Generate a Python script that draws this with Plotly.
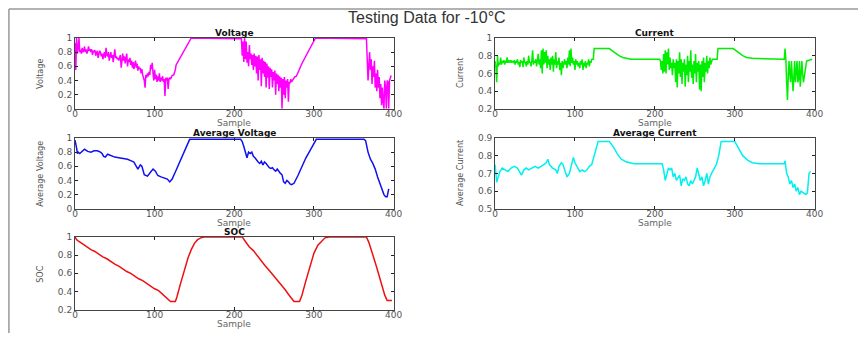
import plotly.graph_objects as go

# ---------------- data ----------------
voltage_x = list(range(0, 123)) + [124, 126, 127, 130, 146, 209] + list(range(210, 277)) + [278, 282, 285, 302, 366] + list(range(367, 396)) + [397]
voltage_y = [0.93, 0.55, 1.0, 0.78, 0.85, 1.0, 0.8, 0.83, 0.78, 0.86, 0.8, 0.82, 0.88, 0.8, 0.84, 0.78, 0.82, 0.88, 0.82, 0.84,
             0.8, 0.84, 0.76, 0.82, 0.8, 0.83, 0.75, 0.8, 0.82, 0.72, 0.78, 0.82, 0.8, 0.74, 0.78, 0.7, 0.76, 0.8, 0.72, 0.86,
             0.76, 0.74, 0.8, 0.68, 0.74, 0.8, 0.72, 0.76, 0.66, 0.73, 0.84, 0.72, 0.74, 0.7, 0.72, 0.68, 0.73, 0.76, 0.58, 0.72,
             0.78, 0.68, 0.74, 0.64, 0.7, 0.78, 0.6, 0.7, 0.66, 0.72, 0.62, 0.68, 0.58, 0.66, 0.56, 0.62, 0.68, 0.58, 0.64, 0.54,
             0.6, 0.56, 0.58, 0.5, 0.56, 0.48, 0.44, 0.4, 0.3, 0.48, 0.44, 0.5, 0.46, 0.52, 0.48, 0.62, 0.56, 0.65, 0.5, 0.4,
             0.55, 0.42, 0.48, 0.38, 0.46, 0.4, 0.5, 0.38, 0.44, 0.4, 0.46, 0.38, 0.42, 0.18, 0.44, 0.4, 0.44, 0.28, 0.42, 0.44,
             0.42, 0.46, 0.47,
             0.48, 0.55, 0.62, 0.68, 1.0, 0.99,
             0.75, 0.95, 0.66, 1.0, 0.7, 0.95, 0.65, 0.8, 0.6, 0.9, 0.7, 0.78, 0.62, 0.76, 0.55, 0.78, 0.6, 0.75, 0.5, 0.74,
             0.4, 0.76, 0.55, 0.7, 0.32, 0.72, 0.5, 0.68, 0.45, 0.66, 0.3, 0.64, 0.44, 0.6, 0.28, 0.58, 0.45, 0.56, 0.3, 0.52,
             0.4, 0.54, 0.2, 0.5, 0.35, 0.48, 0.25, 0.46, 0.3, 0.44, 0.0, 0.42, 0.2, 0.45, 0.15, 0.4, 0.3, 0.42, 0.1, 0.38,
             0.36, 0.42, 0.38, 0.4, 0.42, 0.44, 0.45,
             0.46, 0.58, 0.64, 1.0, 0.99,
             0.7, 0.4, 0.6, 0.8, 0.55, 0.7, 0.35, 0.6, 0.45, 0.68, 0.3, 0.5, 0.25, 0.55, 0.3, 0.45, 0.15, 0.35, 0.05, 0.3,
             0.1, 0.0, 0.4, 0.3, 0.0, 0.4, 0.38, 0.0, 0.4,
             0.47]

current_x = list(range(0, 124)) + [124, 143, 146, 150, 155, 160, 165, 170, 206] + list(range(207, 275)) + [278, 279, 298, 301, 305, 310, 315, 322, 361, 362, 363] + list(range(364, 387)) + [390, 397]
current_y = [0.74, 0.66, 0.5, 0.8, 0.68, 0.72, 0.7, 0.78, 0.7, 0.74, 0.72, 0.75, 0.7, 0.74, 0.72, 0.78, 0.72, 0.74, 0.73, 0.75,
             0.72, 0.74, 0.73, 0.72, 0.75, 0.7, 0.74, 0.72, 0.76, 0.7, 0.73, 0.67, 0.75, 0.72, 0.74, 0.67, 0.78, 0.72, 0.73, 0.68,
             0.74, 0.7, 0.8, 0.72, 0.73, 0.68, 0.74, 0.86, 0.7, 0.74, 0.72, 0.76, 0.68, 0.74, 0.82, 0.7, 0.76, 0.66, 0.86, 0.6,
             0.88, 0.7, 0.84, 0.72, 0.86, 0.66, 0.8, 0.7, 0.76, 0.64, 0.78, 0.7, 0.8, 0.62, 0.76, 0.7, 0.84, 0.66, 0.74, 0.7,
             0.78, 0.64, 0.72, 0.58, 0.74, 0.66, 0.72, 0.76, 0.7, 0.74, 0.66, 0.78, 0.7, 0.86, 0.68, 0.88, 0.72, 0.78, 0.7, 0.74,
             0.64, 0.76, 0.7, 0.74, 0.68, 0.72, 0.66, 0.74, 0.7, 0.76, 0.64, 0.72, 0.68, 0.74, 0.66, 0.72, 0.7, 0.76, 0.68, 0.74,
             0.72, 0.76, 0.76, 0.76,
             0.88, 0.88, 0.86, 0.83, 0.8, 0.78, 0.77, 0.76, 0.76,
             0.74, 0.64, 0.74, 0.6, 0.82, 0.62, 0.86, 0.6, 0.84, 0.7, 0.88, 0.64, 0.78, 0.66, 0.72, 0.58, 0.76, 0.66, 0.72, 0.5,
             0.76, 0.44, 0.74, 0.6, 0.84, 0.56, 0.76, 0.48, 0.72, 0.62, 0.76, 0.45, 0.7, 0.58, 0.8, 0.5, 0.74, 0.62, 0.86, 0.55,
             0.7, 0.48, 0.74, 0.6, 0.82, 0.5, 0.72, 0.62, 0.74, 0.42, 0.7, 0.4, 0.74, 0.56, 0.78, 0.5, 0.72, 0.62, 0.8, 0.6,
             0.74, 0.66, 0.78, 0.7, 0.74, 0.76, 0.76, 0.76,
             0.76, 0.88, 0.88, 0.86, 0.83, 0.8, 0.78, 0.77, 0.76, 0.76, 0.88, 0.76,
             0.5, 0.3, 0.55, 0.74, 0.6, 0.5, 0.74, 0.6, 0.4, 0.55, 0.74, 0.5, 0.62, 0.74, 0.5, 0.54, 0.74, 0.45, 0.58, 0.74,
             0.6, 0.5, 0.74,
             0.76, 0.76]

avg_voltage_x = [0, 1, 2, 3, 4, 6, 8, 12, 16, 20, 24, 28, 32, 34, 36, 38, 41, 45, 50, 55, 60, 66, 70, 74, 77, 79, 82, 84, 87, 91,
                 95, 98, 101, 104, 108, 112, 116, 119, 122, 126, 130, 135, 140, 144, 208, 210, 212, 214, 216, 218, 220, 222, 224, 226, 228,
                 230, 232, 234, 236, 238, 240, 242, 244, 246, 248, 250, 252, 254, 256, 258, 260, 262, 264, 266, 268, 270, 272, 275, 280, 285,
                 290, 296, 303, 363, 365, 368, 371, 374, 377, 380, 383, 386, 388, 390, 392, 394]
avg_voltage_y = [0.97, 0.93, 0.86, 0.78, 0.8, 0.78, 0.8, 0.84, 0.81, 0.8, 0.82, 0.82, 0.8, 0.78, 0.74, 0.73, 0.77, 0.75, 0.73, 0.72,
                 0.71, 0.7, 0.68, 0.66, 0.6, 0.56, 0.62, 0.6, 0.48, 0.46, 0.52, 0.56, 0.53, 0.47, 0.45, 0.44, 0.42, 0.38, 0.42, 0.52,
                 0.62, 0.74, 0.87, 0.98, 0.98, 0.95, 0.88, 0.8, 0.72, 0.8, 0.78, 0.8, 0.74, 0.72, 0.68, 0.66, 0.64, 0.67, 0.62, 0.66,
                 0.64, 0.6, 0.58, 0.57, 0.58, 0.55, 0.53, 0.56, 0.52, 0.5, 0.48, 0.38, 0.36, 0.4, 0.38, 0.35, 0.34, 0.36, 0.47, 0.6,
                 0.72, 0.84, 0.98, 0.98, 0.96, 0.8, 0.7, 0.64, 0.56, 0.45, 0.36, 0.28, 0.2, 0.17, 0.17, 0.28, 0.34, 0.43]

avg_current_x = [0, 1, 2, 4, 6, 9, 12, 16, 20, 24, 28, 31, 33, 36, 39, 42, 46, 50, 54, 58, 61, 64, 66, 68, 72, 76, 78, 80, 83, 85,
                 88, 90, 93, 96, 98, 100, 103, 106, 109, 112, 115, 118, 121, 125, 129, 143, 148, 153, 158, 164, 174, 209, 211, 213, 215,
                 217, 219, 221, 223, 225, 227, 229, 231, 233, 235, 237, 239, 241, 243, 245, 247, 249, 251, 253, 255, 257, 259, 261, 263, 265,
                 267, 269, 271, 273, 275, 277, 280, 283, 300, 305, 310, 316, 322, 331, 362, 363, 365, 367, 369, 371, 373, 375, 377, 379, 381,
                 383, 386, 389, 391, 393, 395]
avg_current_y = [0.75, 0.7, 0.65, 0.68, 0.71, 0.73, 0.72, 0.71, 0.73, 0.74, 0.73, 0.7, 0.69, 0.72, 0.73, 0.72, 0.73, 0.74, 0.73, 0.74,
                 0.75, 0.76, 0.78, 0.75, 0.73, 0.72, 0.7, 0.74, 0.76, 0.75, 0.7, 0.68, 0.7, 0.75, 0.79, 0.76, 0.73, 0.71, 0.72, 0.71,
                 0.72, 0.74, 0.75, 0.82, 0.88, 0.88, 0.85, 0.81, 0.78, 0.765, 0.755, 0.755, 0.72, 0.66, 0.7, 0.73, 0.72, 0.73, 0.68, 0.7,
                 0.66, 0.68, 0.69, 0.63, 0.67, 0.66, 0.68, 0.64, 0.63, 0.66, 0.64, 0.66, 0.68, 0.73, 0.7, 0.66, 0.68, 0.63, 0.66, 0.7,
                 0.64, 0.68, 0.7, 0.72, 0.74, 0.75, 0.8, 0.88, 0.88, 0.84, 0.8, 0.775, 0.76, 0.755, 0.755, 0.77, 0.7, 0.68, 0.64, 0.66,
                 0.62, 0.64, 0.6, 0.62, 0.58, 0.6, 0.59, 0.58, 0.59, 0.7, 0.71, 0.75]

soc_x = [0, 2, 5, 10, 15, 20, 25, 30, 35, 40, 45, 50, 55, 60, 65, 70, 75, 80, 85, 90,
         95, 100, 105, 110, 115, 118, 120, 126, 128, 132, 137, 142, 146, 150, 154, 158, 162, 210, 214, 219, 224, 229, 234, 239, 244, 249,
         254, 259, 264, 268, 272, 275, 282, 285, 290, 295, 300, 305, 310, 314, 319, 366, 369, 373, 377, 381, 385, 389, 392, 398]
soc_y = [1.0, 0.97, 0.95, 0.92, 0.89, 0.86, 0.84, 0.81, 0.78, 0.76, 0.73, 0.7, 0.68, 0.65, 0.62, 0.6, 0.57, 0.54, 0.52, 0.49,
         0.46, 0.43, 0.41, 0.37, 0.34, 0.31, 0.29, 0.29, 0.34, 0.47, 0.63, 0.77, 0.86, 0.93, 0.97, 0.99, 1.0, 1.0, 0.95, 0.89, 0.85,
         0.79, 0.74, 0.68, 0.63, 0.58, 0.53, 0.48, 0.42, 0.37, 0.32, 0.29, 0.29, 0.36, 0.52, 0.68, 0.82, 0.91, 0.96, 0.99, 1.0, 1.0,
         0.94, 0.84, 0.72, 0.6, 0.47, 0.36, 0.3, 0.3]

x_ticks = [0, 100, 200, 300, 400]
voltage_ticks = [0, 0.2, 0.4, 0.6, 0.8, 1]
current_ticks = [0.2, 0.4, 0.6, 0.8, 1]
avg_current_ticks = [0.5, 0.6, 0.7, 0.8, 0.9]
soc_ticks = [0.2, 0.4, 0.6, 0.8, 1]

panel_titles = ["Voltage", "Current", "Average Voltage", "Average Current", "SOC"]
y_titles = ["Voltage", "Current", "Average Voltage", "Average Current", "SOC"]
main_title = "Testing Data for -10°C"

# ---------------- layout ----------------
W, H = 867, 338

def px_x(p):
    return p / W

def px_y(p):
    return 1 - p / H

left_px = (73, 396)
right_px = (499, 823)
rows_px = [(34, 107), (137, 210), (239, 314)]
panels_px = [(left_px, rows_px[0]), (right_px, rows_px[0]), (left_px, rows_px[1]), (right_px, rows_px[1]), (left_px, rows_px[2])]

fig = go.Figure()

series = [
    (voltage_x, voltage_y, "#FF00FF"),
    (current_x, current_y, "#00EE00"),
    (avg_voltage_x, avg_voltage_y, "#1010F0"),
    (avg_current_x, avg_current_y, "#00F0F0"),
    (soc_x, soc_y, "#EE1010"),
]
for i, (xs, ys, c) in enumerate(series):
    k = "" if i == 0 else str(i + 1)
    fig.add_trace(go.Scatter(x=xs, y=ys, mode="lines", line=dict(color=c, width=1.5),
                             xaxis="x" + k, yaxis="y" + k, showlegend=False, hoverinfo="skip"))

FONT = "DejaVu Sans, Liberation Sans, Arial, sans-serif"
tick_font = dict(family=FONT, size=9, color="#555555")
axis_common = dict(showgrid=False, zeroline=False, showline=True, linecolor="#444444", linewidth=1,
                   mirror="ticks", ticks="inside", ticklen=3, tickcolor="#222222", tickfont=tick_font)

yranges = [[0, 1], [0.2, 1], [0, 1], [0.5, 0.9], [0.2, 1]]
yticks = [voltage_ticks, current_ticks, voltage_ticks, avg_current_ticks, soc_ticks]

layout = dict(width=W, height=H, margin=dict(l=0, r=0, t=0, b=0),
              paper_bgcolor="white", plot_bgcolor="white", showlegend=False)
for i in range(5):
    k = "" if i == 0 else str(i + 1)
    (xl, xr), (yt, yb) = panels_px[i]
    layout["xaxis" + k] = dict(domain=[px_x(xl), px_x(xr)], range=[0, 400], tickvals=x_ticks,
                               anchor="y" + k, ticklabelstandoff=-4, **axis_common)
    layout["yaxis" + k] = dict(domain=[px_y(yb), px_y(yt)], range=yranges[i], tickvals=yticks[i],
                               anchor="x" + k, **axis_common)
fig.update_layout(**layout)

ann = []
ann.append(dict(text=main_title, x=px_x(430), y=px_y(13), xref="paper", yref="paper",
                xanchor="center", yanchor="middle", showarrow=False,
                font=dict(family="Liberation Sans, Arial, sans-serif", size=16, color="#333333")))
for i in range(5):
    (xl, xr), (yt, yb) = panels_px[i]
    cx = px_x((xl + xr) / 2)
    ann.append(dict(text="<b>" + panel_titles[i] + "</b>", x=cx, y=px_y(yt - 5), xref="paper", yref="paper",
                    xanchor="center", yanchor="middle", showarrow=False,
                    font=dict(family=FONT, size=9, color="#111111")))
    ann.append(dict(text="Sample", x=cx, y=px_y(yb + 15), xref="paper", yref="paper",
                    xanchor="center", yanchor="middle", showarrow=False,
                    font=dict(family=FONT, size=9, color="#666666")))
    ann.append(dict(text=y_titles[i], x=px_x(xl - 35), y=px_y((yt + yb) / 2), xref="paper", yref="paper",
                    xanchor="center", yanchor="middle", showarrow=False, textangle=-90,
                    font=dict(family="DejaVu Sans Condensed, Liberation Sans Narrow, Liberation Sans, sans-serif",
                              size=9, color="#555555")))
fig.update_layout(annotations=ann)

# outer frame of the figure window
fig.add_shape(type="line", xref="paper", yref="paper", x0=px_x(6), x1=1.0, y0=px_y(4), y1=px_y(4),
              line=dict(color="#999999", width=1.5))
fig.add_shape(type="line", xref="paper", yref="paper", x0=px_x(6), x1=px_x(6), y0=0, y1=px_y(4),
              line=dict(color="#999999", width=1.5))

fig.write_html("out.html")
